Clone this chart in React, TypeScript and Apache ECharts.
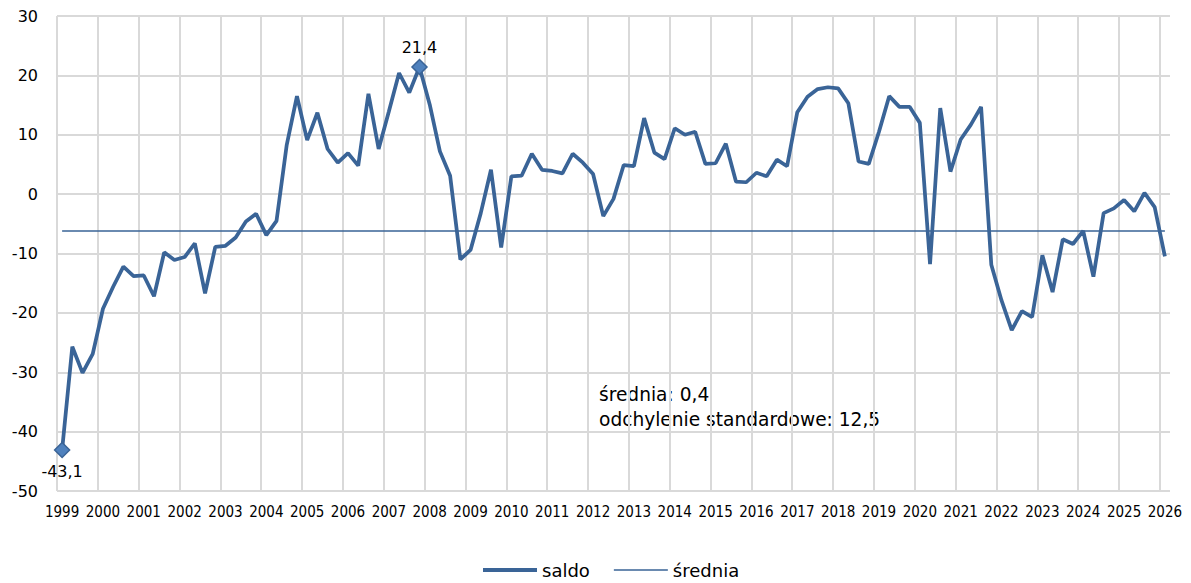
import React, { useEffect, useRef } from "react";
import * as echarts from "echarts";

const years = [1999, 2000, 2001, 2002, 2003, 2004, 2005, 2006, 2007, 2008, 2009, 2010, 2011, 2012, 2013, 2014, 2015, 2016, 2017, 2018, 2019, 2020, 2021, 2022, 2023, 2024, 2025, 2026];
const quarters = ["Q1", "Q2", "Q3", "Q4"];
const lastQuarterCount = 1; // 2026: only Q1

// saldo, quarterly
const saldo1999_2007 = [
  -43.1, -25.7, -30.1, -26.9,
  -19.3, -15.6, -12.2, -13.8,
  -13.7, -17.2, -9.8, -11.1,
  -10.6, -8.3, -16.7, -8.9,
  -8.7, -7.3, -4.6, -3.3,
  -6.9, -4.5, 8.3, 16.5,
  9.1, 13.7, 7.6, 5.3,
  6.9, 4.8, 16.9, 7.6,
  13.9, 20.4, 17.1, 21.4,
];
const saldo2008_2016 = [
  15.1, 7.2, 3.1, -11.0,
  -9.4, -3.2, 4.1, -9.0,
  3.0, 3.1, 6.8, 4.1,
  3.9, 3.5, 6.8, 5.3,
  3.4, -3.7, -0.8, 4.9,
  4.7, 12.8, 7.0, 5.9,
  11.1, 10.0, 10.5, 5.1,
  5.2, 8.5, 2.1, 2.0,
  3.6, 3.0, 5.8, 4.7,
];
const saldo2017_2026 = [
  13.8, 16.4, 17.7, 18.0,
  17.8, 15.3, 5.5, 5.1,
  10.5, 16.5, 14.7, 14.7,
  12.0, -11.8, 14.5, 3.8,
  9.2, 11.7, 14.7, -11.9,
  -17.9, -22.9, -19.7, -20.7,
  -10.3, -16.5, -7.6, -8.4,
  -6.2, -13.9, -3.2, -2.4,
  -1.0, -2.9, 0.2, -2.2,
  -10.5,
];
const saldo = [...saldo1999_2007, ...saldo2008_2016, ...saldo2017_2026];

const meanLineValue = -6.2;
const minIndex = 0;
const maxIndex = 35;
const minLabel = "-43,1";
const maxLabel = "21,4";
const annotationLines = ["średnia: 0,4", "odchylenie standardowe: 12,5"];
const yTicks = { min: -50, max: 30, interval: 10 };

const categories: string[] = [];
years.forEach((y, yi) => {
  const n = yi === years.length - 1 ? lastQuarterCount : 4;
  for (let q = 0; q < n; q++) categories.push(`${y} ${quarters[q]}`);
});

const LINE = "#3A6497";
const MARKER = "#4F81BD";
const GRID = "#D9D9D9";
const FONT = "DejaVu Sans";

// legend icons: 54x4 bounding box, thick / thin stroke
const ICON_THICK = "path://M0,0 H54 V4 H0 Z";
const ICON_THIN = "path://M0,0 H54 V0.001 H0 Z M0,1.25 H54 V2.75 H0 Z M0,3.999 H54 V4 H0 Z";

export default function App() {
  const ref = useRef<HTMLDivElement>(null);
  useEffect(() => {
    document.body.style.margin = "0";
    const chart = echarts.init(ref.current!, null, { renderer: "svg" });
    const saldoData = saldo.map((v, i) => {
      if (i === minIndex || i === maxIndex) {
        return {
          value: v,
          symbol: "diamond",
          symbolSize: 15,
          itemStyle: { color: MARKER, borderColor: LINE, borderWidth: 1.5 },
          label: {
            show: true,
            position: i === minIndex ? "bottom" : "top",
            distance: i === minIndex ? 5 : 3,
            formatter: i === minIndex ? minLabel : maxLabel,
            fontFamily: FONT,
            fontSize: 16,
            color: "#000",
          },
        };
      }
      return v;
    });
    chart.setOption({
      animation: false,
      backgroundColor: "#fff",
      grid: { left: 57, right: 21, top: 16, bottom: 92, containLabel: false },
      xAxis: {
        type: "category",
        data: categories,
        boundaryGap: true,
        axisLine: { show: false },
        axisTick: { show: false },
        axisLabel: {
          interval: 3,
          margin: 13,
          fontFamily: "DejaVu Sans Condensed",
          fontSize: 15,
          color: "#000",
          formatter: (v: string) => v.split(" ")[0],
        },
        splitLine: {
          show: true,
          interval: 3,
          showMaxLine: false,
          lineStyle: { color: GRID, width: 2 },
        },
      },
      yAxis: {
        type: "value",
        min: yTicks.min,
        max: yTicks.max,
        interval: yTicks.interval,
        axisLine: { show: false },
        axisTick: { show: false },
        axisLabel: { margin: 19, fontFamily: FONT, fontSize: 16, color: "#000" },
        splitLine: { show: true, lineStyle: { color: GRID, width: 2 } },
      },
      legend: {
        top: 561,
        left: 483,
        padding: 0,
        itemWidth: 54,
        itemHeight: 4,
        itemGap: 24,
        textStyle: { fontFamily: FONT, fontSize: 18, color: "#000" },
        data: [
          { name: "saldo", icon: ICON_THICK },
          { name: "średnia", icon: ICON_THIN },
        ],
      },
      graphic: [
        {
          type: "text",
          left: 599,
          top: 382,
          style: {
            text: annotationLines.join("\n"),
            font: `18.6px "${FONT}"`,
            lineHeight: 25,
            fill: "#000",
          },
        },
      ],
      series: [
        {
          name: "saldo",
          type: "line",
          data: saldoData,
          symbol: "none",
          showSymbol: true,
          showAllSymbol: true,
          lineStyle: { color: LINE, width: 3.75 },
          itemStyle: { color: LINE },
          z: 3,
        },
        {
          name: "średnia",
          type: "line",
          data: saldo.map(() => meanLineValue),
          symbol: "none",
          lineStyle: { color: LINE, width: 1.5 },
          itemStyle: { color: LINE },
          z: 2,
        },
      ],
    });
    return () => chart.dispose();
  }, []);
  return (
    <div
      ref={ref}
      style={{ position: "absolute", left: 0, top: 0, width: 1191, height: 583 }}
    />
  );
}
